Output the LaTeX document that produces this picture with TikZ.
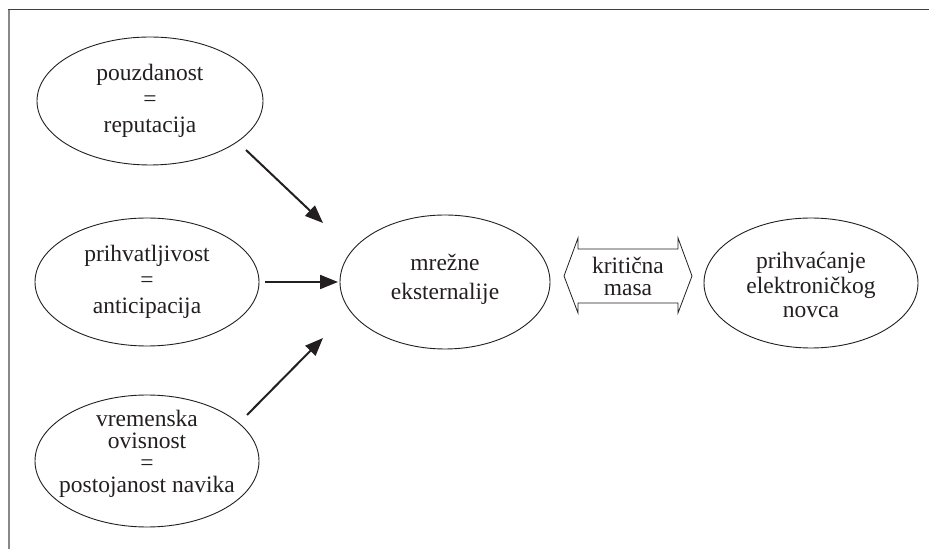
\documentclass[tikz,border=0pt]{standalone}
\usepackage{fontspec}
\setmainfont{Liberation Serif}
\usetikzlibrary{shapes.geometric,arrows.meta}
\definecolor{framedark}{RGB}{64,64,64}
\definecolor{framelight}{RGB}{136,136,136}
\definecolor{inkc}{RGB}{35,31,32}
\tikzset{
  oval/.style={ellipse,draw=inkc,line width=0.9pt,inner sep=0pt},
  plain/.style={inner sep=0pt,align=center,text=inkc},
  lbl/.style={plain,font=\fontsize{23.5}{#1}\selectfont},
  arr/.style={draw=inkc,line width=2pt,-{Triangle[length=18pt,width=14pt]}},
  dbl/.style={draw=inkc,line width=0.8pt,line join=miter}
}
\begin{document}
\begin{tikzpicture}[x=1pt,y=1pt]
\useasboundingbox (0,0) rectangle (929,549);
\fill[white] (0,0) rectangle (929,549);
\draw[framelight,line width=2pt] (8.5,539.5) -- (8.5,0);
\draw[framedark,line width=1.8pt] (7.5,539.5) -- (929,539.5);

\node[oval,minimum width=226pt,minimum height=128pt] (e1) at (150,448) {};
\node[oval,minimum width=224pt,minimum height=128pt] (e2) at (147,267) {};
\node[oval,minimum width=224pt,minimum height=132pt] (e3) at (147,88) {};
\node[oval,minimum width=210pt,minimum height=134pt] (e4) at (445,267) {};
\node[oval,minimum width=214pt,minimum height=130pt] (e5) at (811,266) {};

\node[lbl=26] (t1) at (e1.center) {pouzdanost\\=\\reputacija};
\node[lbl=26] (t2) at (e2.center) {prihvatljivost\\=\\anticipacija};
\node[lbl=22] (t3) at ([yshift=7pt]e3.center) {vremenska\\ovisnost\\=\\postojanost navika};
\node[lbl=29] (t4) at ([yshift=3pt]e4.center) {mrežne\\eksternalije};
\node[lbl=24.5] (t5) at ([yshift=-2pt]e5.center) {prihvaćanje\\elektroničkog\\novca};

\node[lbl=22] (km) at (628,273) {kritična\\masa};
\draw[dbl] ([shift={(-64,0)}]km.center) -- ([shift={(-50,38)}]km.center) -- ([shift={(-50,27)}]km.center)
  -- ([shift={(50,27)}]km.center) -- ([shift={(50,38)}]km.center) -- ([shift={(64,0)}]km.center)
  -- ([shift={(50,-37)}]km.center) -- ([shift={(50,-27)}]km.center) -- ([shift={(-50,-27)}]km.center)
  -- ([shift={(-50,-37)}]km.center) -- cycle;

\draw[arr] ([shift={(96,-49)}]e1.center) -- ([shift={(-122,59)}]e4.center);
\draw[arr] ([shift={(118,0)}]e2.center) -- ([shift={(-107,0)}]e4.center);
\draw[arr] ([shift={(100,46)}]e3.center) -- ([shift={(-122,-56)}]e4.center);
\end{tikzpicture}
\end{document}
